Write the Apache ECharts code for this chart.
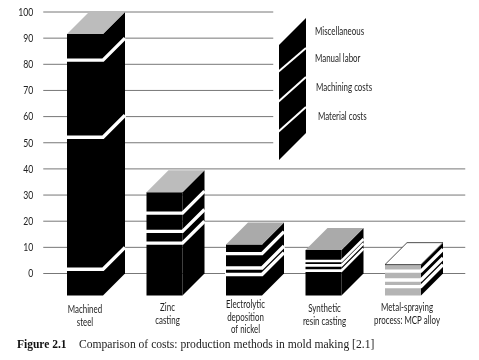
<!DOCTYPE html>
<html><head><meta charset="utf-8">
<style>html,body{margin:0;padding:0;background:#fff}#c{width:479px;height:360px}</style>
<script src="https://cdn.jsdelivr.net/npm/echarts@6/dist/echarts.min.js"></script>
</head><body><div id="c"></div>
<script>
const categories = ['Machined\nsteel','Zinc\ncasting','Electrolytic\ndeposition\nof nickel','Synthetic\nresin casting','Metal-spraying\nprocess: MCP alloy'];
const material  = [10, 20, 8, 9.5, 3.4];
const machining = [50.5, 4.5, 2.5, 2, 2.5];
const manual    = [29.5, 7, 5.5, 1.7, 3.4];
const misc      = [10, 8, 3.5, 4.2, 2.5];
const seriesNames = ['Material costs','Machining costs','Manual labor','Miscellaneous'];
const yTicks = [0,10,20,30,40,50,60,70,80,90,100];
const shortGrid = [50,60,70,80,90,100];
const longGrid = [0,10,20,30,40];
const backBase = 8.4;

const FONT = 'Lato,"Liberation Sans",sans-serif';
const NARROW = 0.72;
const stacks = [material, machining, manual, misc];
const frontW = 36/79.5, depthW = 22/79.5;
const frontColor = i => i === 4 ? '#b4b4b4' : '#000';
const topColor = i => i === 4 ? '#fff' : (i < 2 ? '#bcbcbc' : '#aaa');
const labelShift = [[0,0],[3,-2],[1.5,-5],[1,-1],[4,-2]];

function segData(k){
  return categories.map((c,i)=>{
    let s = -backBase;
    for(let j=0;j<k;j++) s += stacks[j][i];
    return [i, s, s + stacks[k][i]];
  });
}
function renderSeg(k){
  return function(params, api){
    const i = api.value(0), band = api.size([1,0])[0];
    const cx = api.coord([i,0])[0];
    const w = band*frontW, d = band*depthW;
    const l = cx-w/2, r = cx+w/2;
    const y0 = api.coord([i,api.value(1)])[1], y1 = api.coord([i,api.value(2)])[1];
    const dy = api.coord([i,0])[1]-api.coord([i,backBase])[1];
    const kids = [
      {type:'polygon',shape:{points:[[l,y0],[r,y0],[r,y1],[l,y1]]},style:{fill:frontColor(i)}},
      {type:'polygon',shape:{points:[[r,y0],[r+d,y0-dy],[r+d,y1-dy],[r,y1]]},style:{fill:'#000'}}
    ];
    if(k>0) kids.push({type:'polyline',shape:{points:[[l-1,y0],[r,y0],[r+d,y0-dy]]},style:{stroke:'#fff',lineWidth:i===3?2.6:3.4,fill:null}});
    if(k===3) kids.push({type:'polygon',shape:{points:[[l,y1],[r,y1],[r+d,y1-dy],[l+d,y1-dy]]},
      style:{fill:topColor(i),stroke:i===4?'#222':null,lineWidth:i===4?0.8:0}});
    return {type:'group',children:kids};
  };
}
function gridSeries(vals,endOffset){
  return {type:'custom',silent:true,z:1,clip:false,data:vals.map(v=>[0,v]),encode:{x:0,y:1},
    renderItem(p,api){
      const y = api.coord([0,api.value(1)])[1];
      return {type:'line',shape:{x1:p.coordSys.x-2,y1:y,x2:p.coordSys.x+endOffset,y2:y},style:{stroke:'#777',lineWidth:1}};
    }};
}
const yLabelSeries = {type:'custom',silent:true,z:8,clip:false,data:yTicks.map(v=>[0,v]),encode:{x:0,y:1},
  renderItem(p,api){
    const v = api.value(1), y = api.coord([0,v])[1];
    return {type:'text',x:p.coordSys.x-12,y,scaleX:NARROW,style:{text:String(v),font:'12px '+FONT,fill:'#222',align:'right',verticalAlign:'middle'}};
  }};
const xLabelSeries = {type:'custom',silent:true,z:8,clip:false,data:categories.map((c,i)=>[i,-10]),encode:{x:0,y:1},
  renderItem(p,api){
    const i = api.value(0), pt = api.coord([i,-10]);
    return {type:'text',x:pt[0]+labelShift[i][0],y:pt[1]+4+labelShift[i][1],scaleX:NARROW,
      style:{text:categories[i],font:'11px '+FONT,lineHeight:12.5,fill:'#222',align:'center',verticalAlign:'top'}};
  }};
const legendLabels=[['Miscellaneous',315,31],['Manual labor',315,58],['Machining costs',316,87],['Material costs',318,116]];
const graphic=[
 {type:'polygon',shape:{points:[[279,45],[306,18],[306,133],[279,160]]},style:{fill:'#000'},z:5},
 ...[[72,48],[102,77],[132,107]].map(a=>({type:'line',shape:{x1:278,y1:a[0],x2:306,y2:a[1]},style:{stroke:'#fff',lineWidth:2},z:6})),
 ...legendLabels.map(t=>({type:'text',x:t[1],y:t[2],scaleX:NARROW,z:6,style:{text:t[0],font:'11px '+FONT,fill:'#222',verticalAlign:'middle'}})),
 {type:'text',x:17,y:345,style:{text:'Figure 2.1',font:'bold 11.5px "Liberation Serif",serif',fill:'#111',verticalAlign:'middle'}},
 {type:'text',x:79,y:345,style:{text:'Comparison of costs: production methods in mold making [2.1]',font:'11.6px "Liberation Serif",serif',fill:'#222',verticalAlign:'middle'}}
];
const chart = echarts.init(document.getElementById('c'),null,{renderer:'canvas'});
chart.setOption({
  animation:false,
  backgroundColor:'#fff',
  grid:{left:45.25,top:12,width:397.5,height:287.65},
  xAxis:{type:'category',data:categories,axisLine:{show:false},axisTick:{show:false},axisLabel:{show:false}},
  yAxis:{type:'value',min:-10,max:100,interval:10,splitLine:{show:false},axisLine:{show:false},axisTick:{show:false},axisLabel:{show:false}},
  graphic,
  series:[
    gridSeries(shortGrid,228),
    gridSeries(longGrid,420),
    ...seriesNames.map((n,k)=>({name:n,type:'custom',z:2+k,clip:false,renderItem:renderSeg(k),data:segData(k),encode:{x:0,y:[1,2]}})),
    yLabelSeries,
    xLabelSeries
  ]
});
</script></body></html>
